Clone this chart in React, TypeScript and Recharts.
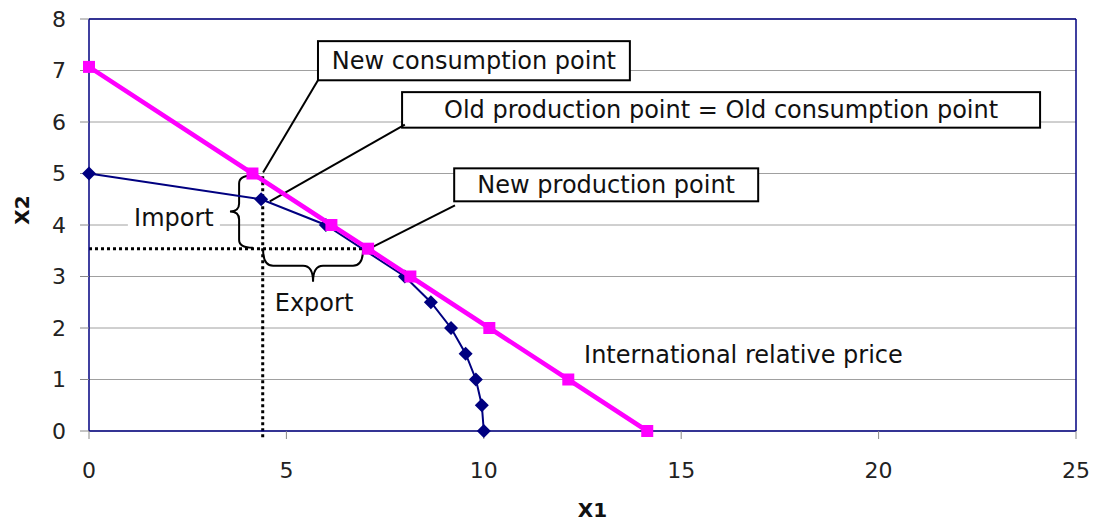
import React from 'react';
import {
  ScatterChart,
  Scatter,
  XAxis,
  YAxis,
  CartesianGrid,
  ReferenceLine,
  ReferenceArea,
  ReferenceDot,
} from 'recharts';

// production possibility frontier (navy diamonds)
const ppfX = [0, 4.36, 6, 8, 8.66, 9.17, 9.54, 9.8, 9.95, 10];
const ppfY = [5, 4.5, 4, 3, 2.5, 2, 1.5, 1, 0.5, 0];

// international relative price line (magenta squares)
const priceX = [0, 4.14, 6.14, 7.07, 8.14, 10.14, 12.14, 14.14];
const priceY = [7.07, 5, 4, 3.54, 3, 2, 1, 0];

const xTicks = [0, 5, 10, 15, 20, 25];
const yTicks = [0, 1, 2, 3, 4, 5, 6, 7, 8];

// key points
const newConsumption = { x: 4.4, y: 5 };
const newProduction = { x: 7.07, y: 3.54 };

// callout boxes, in data units
const boxes = [
  { text: 'New consumption point', x1: 5.8, x2: 13.7, y1: 6.81, y2: 7.57, from: { x: 5.8, y: 6.81 }, to: { x: 4.41, y: 5.02 } },
  { text: 'Old production point = Old consumption point', x1: 7.93, x2: 24.09, y1: 5.89, y2: 6.58, from: { x: 8.0, y: 5.95 }, to: { x: 4.58, y: 4.46 } },
  { text: 'New production point', x1: 9.25, x2: 16.95, y1: 4.46, y2: 5.1, from: { x: 9.27, y: 4.38 }, to: { x: 7.1, y: 3.54 } },
];

const ppfData = ppfX.map((x, i) => ({ x, y: ppfY[i] }));
const priceData = priceX.map((x, i) => ({ x, y: priceY[i] }));

const NAVY = '#000080';
const PINK = '#ff00ff';
const FONT = '"DejaVu Sans", Verdana, sans-serif';

const Diamond = (p: any) => (
  <path
    d={`M${p.cx},${p.cy - 7} L${p.cx + 7},${p.cy} L${p.cx},${p.cy + 7} L${p.cx - 7},${p.cy} Z`}
    fill={NAVY}
  />
);

const Square = (p: any) => <rect x={p.cx - 6} y={p.cy - 6} width={12} height={12} fill={PINK} />;

const boxShape = (label: string) => (p: any) => (
  <g>
    <rect x={p.x} y={p.y} width={p.width} height={p.height} fill="#fff" stroke="#000" strokeWidth={2} />
    <text
      x={p.x + p.width / 2}
      y={p.y + p.height / 2 + 8}
      textAnchor="middle"
      fontFamily={FONT}
      fontSize={24}
      fill="#111"
    >
      {label}
    </text>
  </g>
);

// brace opening to the right, tip on the left
const leftBrace = (p: any) => {
  const { x, y, width: w, height: h } = p;
  const sx = x + w * 0.4;
  const m = y + h / 2;
  const r = 8;
  const d = `M${x + w},${y} Q${sx},${y} ${sx},${y + r} L${sx},${m - r} Q${sx},${m} ${x},${m} Q${sx},${m} ${sx},${m + r} L${sx},${y + h - r} Q${sx},${y + h} ${x + w},${y + h}`;
  return <path d={d} fill="none" stroke="#000" strokeWidth={2} />;
};

// brace opening upwards, tip at the bottom
const downBrace = (p: any) => {
  const { x, y, width: w, height: h } = p;
  const sy = y + h * 0.5;
  const m = x + w / 2;
  const r = 10;
  const d = `M${x},${y} Q${x},${sy} ${x + r},${sy} L${m - r},${sy} Q${m},${sy} ${m},${y + h} Q${m},${sy} ${m + r},${sy} L${x + w - r},${sy} Q${x + w},${sy} ${x + w},${y}`;
  return <path d={d} fill="none" stroke="#000" strokeWidth={2} />;
};

const textShape = (label: string, anchor: 'start' | 'middle', bg?: boolean) => (p: any) => (
  <g>
    {bg && <rect x={p.cx - 46} y={p.cy - 14} width={92} height={26} fill="#fff" />}
    <text x={p.cx} y={p.cy + 8} textAnchor={anchor} fontFamily={FONT} fontSize={24} fill="#111">
      {label}
    </text>
  </g>
);

export default function App() {
  return (
    <div style={{ position: 'absolute', left: 0, top: 0, background: '#fff' }}>
      <ScatterChart width={1096} height={522} margin={{ top: 19, right: 20, bottom: 0, left: 0 }}>
        <CartesianGrid vertical={false} stroke="#a0a0a0" strokeWidth={1} />
        <XAxis
          type="number"
          dataKey="x"
          domain={[0, 25]}
          ticks={xTicks}
          height={91}
          tickSize={8}
          tickMargin={23}
          axisLine={{ stroke: NAVY, strokeWidth: 1.5 }}
          tickLine={{ stroke: '#888' }}
          tick={{ fontFamily: FONT, fontSize: 22, fill: '#222' }}
          label={{
            content: (props: any) => (
              <text
                x={props.viewBox.x + props.viewBox.width / 2 + 10}
                y={props.viewBox.y + 86}
                textAnchor="middle"
                fontFamily={FONT}
                fontWeight="bold"
                fontSize={20}
                fill="#111"
              >
                X1
              </text>
            ),
          }}
        />
        <YAxis
          type="number"
          dataKey="y"
          domain={[0, 8]}
          ticks={yTicks}
          width={89}
          tickSize={9}
          tickMargin={14}
          axisLine={{ stroke: NAVY, strokeWidth: 1.5 }}
          tickLine={{ stroke: '#888' }}
          tick={{ fontFamily: FONT, fontSize: 22, fill: '#222' }}
          label={{
            content: (props: any) => {
              const cx = props.viewBox.x + 22;
              const cy = props.viewBox.y + props.viewBox.height / 2 - 15;
              return (
                <text
                  x={cx}
                  y={cy}
                  transform={`rotate(-90 ${cx} ${cy})`}
                  textAnchor="middle"
                  dominantBaseline="central"
                  fontFamily={FONT}
                  fontWeight="bold"
                  fontSize={20}
                  fill="#111"
                >
                  X2
                </text>
              );
            },
          }}
        />
        <ReferenceLine y={8} stroke={NAVY} strokeWidth={1.5} />
        <ReferenceLine x={25} stroke={NAVY} strokeWidth={1.5} />

        {/* dotted guides */}
        <ReferenceLine
          segment={[{ x: newConsumption.x, y: -0.12 }, { x: newConsumption.x, y: newConsumption.y }]}
          stroke="#000"
          strokeWidth={3}
          strokeDasharray="3 3"
          ifOverflow="visible"
        />
        <ReferenceLine
          segment={[{ x: 0, y: newProduction.y }, { x: newProduction.x, y: newProduction.y }]}
          stroke="#000"
          strokeWidth={3}
          strokeDasharray="3 3"
        />

        {/* braces and labels */}
        <ReferenceArea x1={3.57} x2={4.15} y1={3.56} y2={4.96} shape={leftBrace} />
        <ReferenceArea x1={4.41} x2={6.94} y1={2.9} y2={3.52} shape={downBrace} />
        <ReferenceDot x={2.15} y={4.14} r={0} shape={textShape('Import', 'middle', true)} />
        <ReferenceDot x={5.7} y={2.49} r={0} shape={textShape('Export', 'middle')} />
        <ReferenceDot x={12.54} y={1.48} r={0} shape={textShape('International relative price', 'start')} />

        {/* callouts */}
        {boxes.map((b) => (
          <ReferenceLine
            key={`l-${b.text}`}
            segment={[b.from, b.to]}
            stroke="#000"
            strokeWidth={2}
          />
        ))}
        {boxes.map((b) => (
          <ReferenceArea key={`b-${b.text}`} x1={b.x1} x2={b.x2} y1={b.y1} y2={b.y2} shape={boxShape(b.text)} />
        ))}

        <Scatter
          data={ppfData}
          line={{ stroke: NAVY, strokeWidth: 2 }}
          lineType="joint"
          shape={Diamond}
          isAnimationActive={false}
        />
        <Scatter
          data={priceData}
          line={{ stroke: PINK, strokeWidth: 4.5 }}
          lineType="joint"
          shape={Square}
          isAnimationActive={false}
        />
      </ScatterChart>
    </div>
  );
}
